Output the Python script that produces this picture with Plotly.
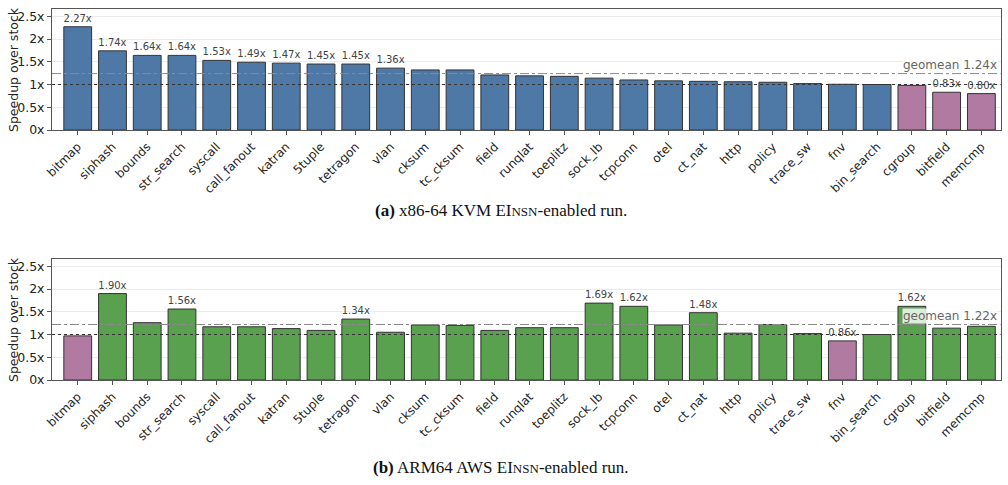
import plotly.graph_objects as go

benchmarks = ["bitmap", "siphash", "bounds", "str_search", "syscall", "call_fanout", "katran",
              "5tuple", "tetragon", "vlan", "cksum", "tc_cksum", "field", "runqlat", "toeplitz",
              "sock_lb", "tcpconn", "otel", "ct_nat", "http", "policy", "trace_sw", "fnv",
              "bin_search", "cgroup", "bitfield", "memcmp"]

x86_speedup = [2.27, 1.74, 1.64, 1.64, 1.53, 1.49, 1.47, 1.45, 1.45, 1.36, 1.32, 1.32, 1.21,
               1.19, 1.18, 1.14, 1.10, 1.08, 1.07, 1.06, 1.05, 1.02, 1.005, 1.00, 0.98, 0.83, 0.80]
x86_labeled = [1, 1, 1, 1, 1, 1, 1, 1, 1, 1, 0, 0, 0, 0, 0, 0, 0, 0, 0, 0, 0, 0, 0, 0, 0, 1, 1]
x86_geomean = 1.24

arm_speedup = [0.97, 1.90, 1.26, 1.56, 1.17, 1.17, 1.13, 1.09, 1.34, 1.05, 1.21, 1.20, 1.09,
               1.15, 1.15, 1.69, 1.62, 1.21, 1.48, 1.03, 1.22, 1.02, 0.86, 1.00, 1.62, 1.14, 1.18]
arm_labeled = [0, 1, 0, 1, 0, 0, 0, 0, 1, 0, 0, 0, 0, 0, 0, 1, 1, 0, 1, 0, 0, 0, 1, 0, 1, 0, 0]
arm_geomean = 1.22

y_ticks = [0, 0.5, 1, 1.5, 2, 2.5]
y_tick_labels = ["0x", "0.5x", "1x", "1.5x", "2x", "2.5x"]
y_title = "Speedup over stock"

caption_a = "<b>(a)</b> x86-64 KVM EI<span style='font-size:13px'>NSN</span>-enabled run."
caption_b = "<b>(b)</b> ARM64 AWS EI<span style='font-size:13px'>NSN</span>-enabled run."

BLUE = "#4E79A7"
GREEN = "#59A14F"
PURPLE = "#B07AA1"
FONT = "DejaVu Sans"

W, H = 1008, 485
fig = go.Figure()

panels = [
    (x86_speedup, x86_labeled, x86_geomean, BLUE, "x", "y", (9, 130)),
    (arm_speedup, arm_labeled, arm_geomean, GREEN, "x2", "y2", (259, 380)),
]

xdom = [52 / W, 1000.5 / W]
for vals, labeled, gm, col, xa, ya, (top, bot) in panels:
    colors = [col if v >= 1.0 else PURPLE for v in vals]
    texts = [f"{v:.2f}x" if l else "" for v, l in zip(vals, labeled)]
    fig.add_trace(go.Bar(
        x=list(range(len(benchmarks))), y=vals, width=0.8,
        marker=dict(color=colors, line=dict(color="#333333", width=1)),
        text=texts, textposition="outside", textangle=0, constraintext="none",
        cliponaxis=False,
        outsidetextfont=dict(family=FONT, size=10, color="#444444"),
        xaxis=xa, yaxis=ya, showlegend=False, hoverinfo="skip",
    ))
    # baseline 1x
    fig.add_shape(type="line", xref=f"{xa} domain", yref=ya, x0=0, x1=1, y0=1.0, y1=1.0,
                  line=dict(color="#333333", width=1, dash="dot"), layer="above")
    # geomean
    fig.add_shape(type="line", xref=f"{xa} domain", yref=ya, x0=0, x1=1, y0=gm, y1=gm,
                  line=dict(color="#8a8a8a", width=1, dash="dashdot"), layer="above")
    fig.add_annotation(xref=f"{xa} domain", yref=ya, x=0.997, y=gm, xanchor="right",
                       yanchor="bottom", yshift=1, showarrow=False,
                       text=f"geomean {gm:.2f}x",
                       font=dict(family=FONT, size=12, color="#666666"),
                       bgcolor="rgba(255,255,255,0.8)", borderpad=0)
    # y-axis title
    fig.add_annotation(xref="paper", yref=f"{ya} domain", x=13.5 / W, y=0.5,
                       xanchor="center", yanchor="middle", textangle=-90, showarrow=False,
                       text=y_title, font=dict(family=FONT, size=12.5, color="#222222"))

    axis_x = dict(
        domain=xdom, anchor=ya, range=[-0.74, 26.55], automargin=False,
        tickmode="array", tickvals=list(range(len(benchmarks))), ticktext=benchmarks,
        tickangle=-45, tickfont=dict(family=FONT, size=12, color="#222222"),
        ticks="outside", ticklen=4, tickcolor="#555555",
        showline=True, linecolor="#555555", linewidth=1, mirror=True,
        showgrid=False, zeroline=False,
    )
    axis_y = dict(
        domain=[1 - bot / H, 1 - top / H], anchor=xa, range=[0, 2.66], automargin=False,
        tickmode="array", tickvals=y_ticks, ticktext=y_tick_labels,
        tickfont=dict(family=FONT, size=12.5, color="#222222"),
        ticks="outside", ticklen=4, tickcolor="#555555",
        showline=True, linecolor="#555555", linewidth=1, mirror=True,
        showgrid=True, gridcolor="#ebebeb", gridwidth=1, zeroline=False,
        layer="above traces",
    )
    if xa == "x":
        fig.update_layout(xaxis=axis_x, yaxis=axis_y)
    else:
        fig.update_layout(xaxis2=axis_x, yaxis2=axis_y)

fig.add_annotation(xref="paper", yref="paper", x=501 / W, y=1 - 210 / H, xanchor="center",
                   yanchor="middle", showarrow=False, text=caption_a,
                   font=dict(family="Liberation Serif", size=17, color="#111111"))
fig.add_annotation(xref="paper", yref="paper", x=501 / W, y=1 - 467 / H, xanchor="center",
                   yanchor="middle", showarrow=False, text=caption_b,
                   font=dict(family="Liberation Serif", size=17, color="#111111"))

fig.update_layout(
    width=W, height=H, margin=dict(l=0, r=0, t=0, b=0),
    paper_bgcolor="white", plot_bgcolor="white",
    bargap=0.2, font=dict(family=FONT),
)

fig.write_html("out.html")
